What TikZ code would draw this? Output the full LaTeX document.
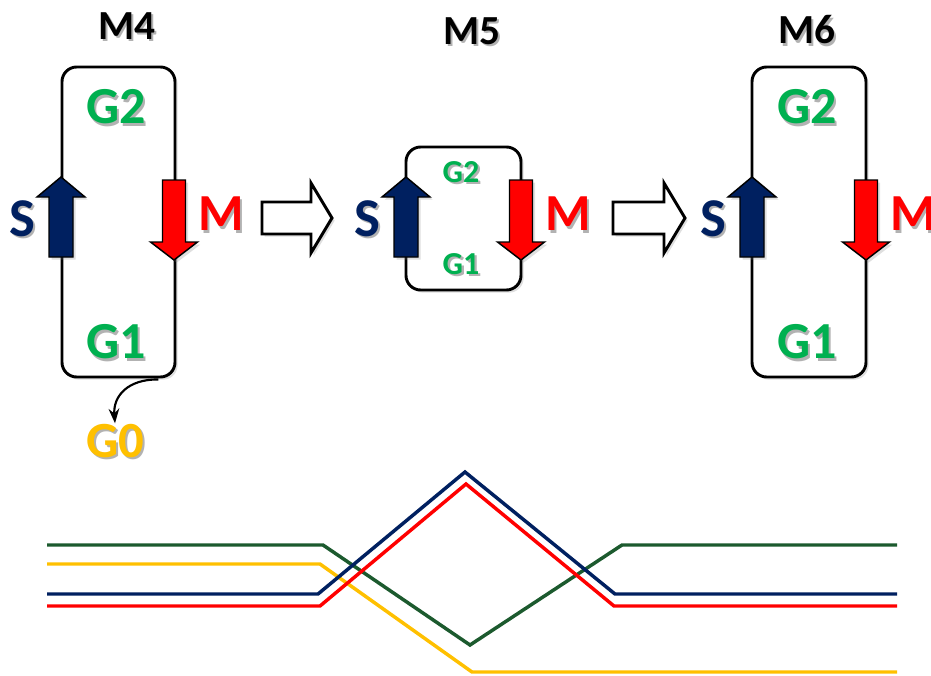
\documentclass[tikz,border=0pt]{standalone}
\usepackage{fontspec}
\setmainfont{Carlito}
\usetikzlibrary{calc,arrows.meta,shadows}

\definecolor{navy}{RGB}{0,32,96}
\definecolor{brightred}{RGB}{255,0,0}
\definecolor{gtext}{RGB}{0,176,80}
\definecolor{gline}{RGB}{28,90,46}
\definecolor{gold}{RGB}{255,192,0}

% label with a soft grey drop shadow behind it: name, position, font size (pt), colour, text
\newcommand{\shlabel}[5]{%
  \node[font=\fontsize{#3}{#3}\selectfont\bfseries, text=#4] (#1) at (#2)
    {\rlap{\kern1.8pt\raisebox{-1.8pt}{\textcolor{black!30}{#5}}}#5};}

% spin arrow pointing up, centred on x = #1
\newcommand{\spinup}[2]{%
  \draw[spinarrow, fill=#2] (#1-12,257) -- (#1-12,197) -- (#1-24,197) -- (#1,177)
    -- (#1+24,197) -- (#1+12,197) -- (#1+12,257) -- cycle;}
% spin arrow pointing down, centred on x = #1
\newcommand{\spindown}[2]{%
  \draw[spinarrow, fill=#2] (#1-11.5,180) -- (#1-11.5,242) -- (#1-23.5,242) -- (#1,260)
    -- (#1+23.5,242) -- (#1+11.5,242) -- (#1+11.5,180) -- cycle;}
% hollow block arrow, shaft starting at x = #1, tip at x = #2
\newcommand{\steparrow}[2]{%
  \draw[blockarrow] (#1,202) -- (#2-21,202) -- (#2-21,183) -- (#2,218)
    -- (#2-21,253) -- (#2-21,234) -- (#1,234) -- cycle;}

\begin{document}
\begin{tikzpicture}[x=0.75pt,y=-0.75pt,
  frame/.style={draw=black, line width=2.2pt, rounded corners=11pt, fill=white,
    inner sep=0pt, drop shadow={opacity=.25, shadow xshift=2pt, shadow yshift=-2pt}},
  spinarrow/.style={draw=black, line width=1.1pt, line join=miter,
    drop shadow={opacity=.25, shadow xshift=2pt, shadow yshift=-2pt}},
  blockarrow/.style={draw=black, line width=2.2pt, fill=white, line join=miter,
    drop shadow={opacity=.25, shadow xshift=2pt, shadow yshift=-2pt}},
  level/.style={line width=2.6pt, line join=miter}]
\useasboundingbox (0,0) rectangle (931,675);
\clip (0,0) rectangle (931,675);

% frames of the three stages
\node[frame, minimum width=84.75pt, minimum height=232.5pt] (b4) at (118.5,222) {};
\node[frame, minimum width=86.25pt, minimum height=107.25pt] (b5) at (463.5,218.5) {};
\node[frame, minimum width=85.5pt, minimum height=232.5pt] (b6) at (809,222) {};

% titles
\shlabel{t4}{127,27}{31}{black}{M4}
\shlabel{t5}{472,32}{31}{black}{M5}
\shlabel{t6}{807,31}{31}{black}{M6}

% orbital labels
\shlabel{g2a}{116,108}{39}{gtext}{G2}
\shlabel{g1a}{116,343}{39}{gtext}{G1}
\shlabel{g0}{115,442}{38}{gold}{G0}
\shlabel{g2b}{461,173}{24}{gtext}{G2}
\shlabel{g1b}{461,265}{24}{gtext}{G1}
\shlabel{g2c}{807,108}{39}{gtext}{G2}
\shlabel{g1c}{807,343}{39}{gtext}{G1}

% spin arrows on the frame edges
\spinup{61}{navy}
\spindown{174}{brightred}
\spinup{406}{navy}
\spindown{521}{brightred}
\spinup{752}{navy}
\spindown{866}{brightred}

% S and M labels
\shlabel{s4}{22,220}{41}{navy}{S}
\shlabel{m4}{221,215}{39}{brightred}{M}
\shlabel{s5}{367,220}{41}{navy}{S}
\shlabel{m5}{568,215}{39}{brightred}{M}
\shlabel{s6}{713,220}{41}{navy}{S}
\shlabel{m6}{913,215}{39}{brightred}{M}

% transitions between the stages
\steparrow{262}{332}
\steparrow{613}{685}

% leak from G1 down to G0
\draw[line width=1.6pt, -{Stealth[length=11pt, width=8pt]}]
  ($(b4.south east)+(-18,1)$) .. controls (128,379) and (113,396) .. ([yshift=-3pt]g0.north);

% level diagram
\draw[level, gline] (47,545) -- (323,545) -- (470,645) -- (622,545) -- (897,545);
\draw[level, gold]  (47,564) -- (320,564) -- (472,672) -- (897,672);
\draw[level, navy]  (47,594) -- (318,594) -- (465,472) -- (615,594) -- (897,594);
\draw[level, brightred] (47,606) -- (320,606) -- (466,484) -- (614,606) -- (897,606);
\end{tikzpicture}
\end{document}
